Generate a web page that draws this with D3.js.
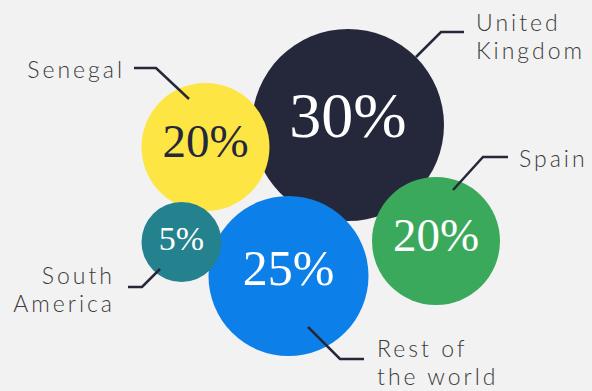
<!DOCTYPE html>
<html>
<head>
<meta charset="utf-8">
<script src="https://cdn.jsdelivr.net/npm/d3@7"></script>
<style>
  html, body { margin: 0; padding: 0; background: #f2f2f2; }
  svg { display: block; }
  .label { font-family: Lato, sans-serif; font-weight: 300; font-size: 23px; fill: #3b3b3b; letter-spacing: 3px; }
  .pct { font-family: "Liberation Serif", serif; }
</style>
</head>
<body>
<script>
// data
var countries = ["United Kingdom", "Senegal", "Spain", "Rest of the world", "South America"];
var shares = [30, 20, 20, 25, 5];
var labelLines = [["United", "Kingdom"], ["Senegal"], ["Spain"], ["Rest of", "the world"], ["South", "America"]];
var colours = ["#25273b", "#fde543", "#3ba95c", "#0c80e8", "#23828e"];
var pctColours = ["#ffffff", "#25273b", "#ffffff", "#ffffff", "#ffffff"];

// layout (bubble centres, leader lines, label anchors)
var centres = [[348, 125], [205.5, 147], [436, 241], [288.5, 276], [181.5, 242]];
var leaders = [
  [[416, 57], [441, 32], [464, 32]],
  [[189, 99], [156, 68], [134, 68]],
  [[453, 190], [483, 157], [508, 157]],
  [[308, 327], [340, 359], [364, 359]],
  [[160, 269], [142, 287], [128, 287]]
];
var labelPos = [[476, 31, "start"], [125, 78, "end"], [519, 167, "start"], [377, 357, "start"], [115, 284, "end"]];

var W = 592, H = 391;
var svg = d3.select("body").append("svg").attr("width", W).attr("height", H);

var rScale = d3.scaleLinear().domain([5, 20, 30]).range([40, 64, 96]);
var fScale = d3.scaleLinear().domain([5, 20, 25, 30]).range([34, 47, 50, 64]);

var rows = countries.map((c, i) => ({name: c, v: shares[i], x: centres[i][0], y: centres[i][1]}));

var bubble = svg.selectAll("g.bubble").data(rows).enter().append("g").attr("class", "bubble");
bubble.append("circle")
  .attr("cx", d => d.x).attr("cy", d => d.y)
  .attr("r", d => rScale(d.v))
  .attr("fill", (d, i) => colours[i]);

var pct = bubble.append("text").attr("class", "pct")
  .attr("x", d => d.x)
  .attr("y", d => d.y - rScale(d.v) * 0.09)
  .attr("dy", "0.33em")
  .attr("text-anchor", "middle")
  .attr("font-size", d => fScale(d.v) + "px")
  .attr("fill", (d, i) => pctColours[i]);
pct.append("tspan").text(d => d.v);
pct.append("tspan").text("%");

var line = d3.line();
svg.selectAll("path.leader").data(leaders).enter().append("path")
  .attr("class", "leader")
  .attr("d", d => line(d))
  .attr("fill", "none").attr("stroke", "#25273b").attr("stroke-width", 2.5);

svg.selectAll("text.label").data(rows).enter().append("text")
  .attr("class", "label")
  .attr("x", (d, i) => labelPos[i][0])
  .attr("y", (d, i) => labelPos[i][1])
  .attr("text-anchor", (d, i) => labelPos[i][2])
  .each(function(d, i) {
    var t = d3.select(this);
    labelLines[i].forEach((s, j) => {
      t.append("tspan").attr("x", labelPos[i][0]).attr("dy", j ? 28 : 0).text(s);
    });
  });
</script>
</body>
</html>
